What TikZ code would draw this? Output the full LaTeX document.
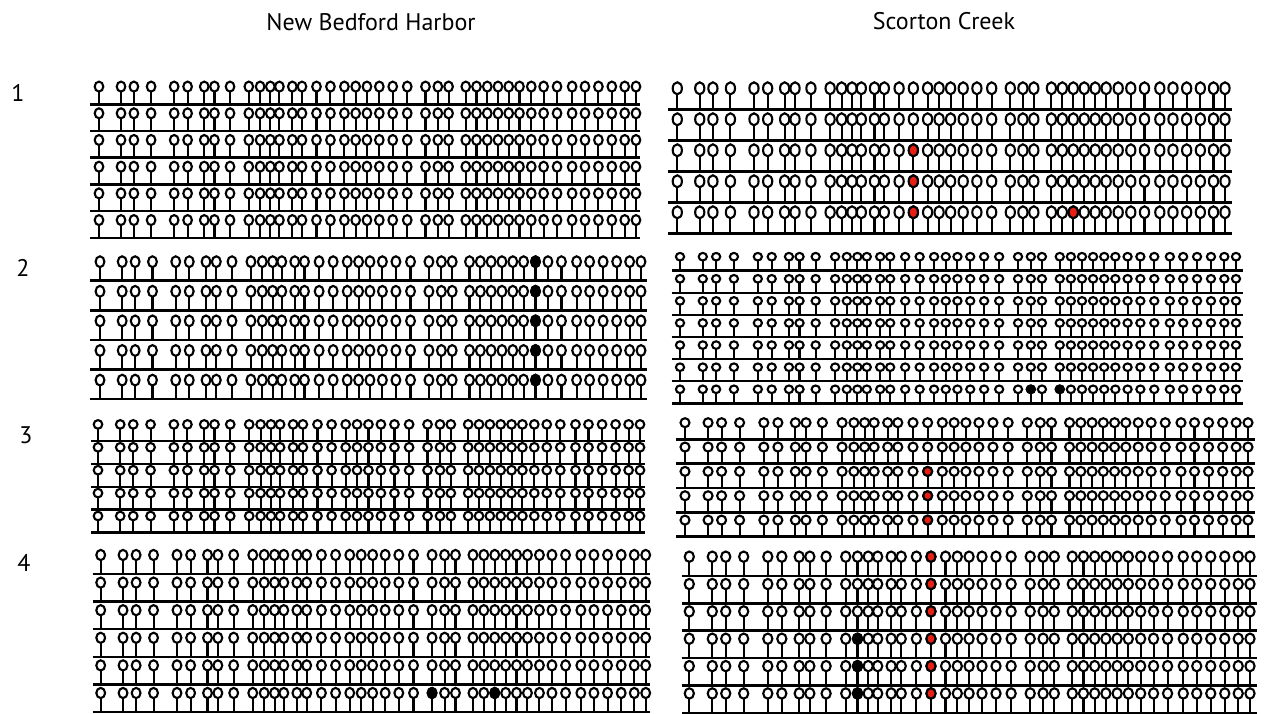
\documentclass[tikz,border=0pt]{standalone}
\usepackage{fontspec}
\setmainfont{PT Sans}
\definecolor{mred}{RGB}{232,32,20}
\def\tlist{0,0.041,0.065,0.097,0.140,0.165,0.196,0.215,0.244,0.279,0.300,0.319,0.336,0.360,0.378,0.405,0.431,0.457,0.478,0.499,0.522,0.547,0.574,0.608,0.631,0.651,0.683,0.703,0.723,0.743,0.763,0.783,0.805,0.828,0.853,0.881,0.905,0.930,0.955,0.979,1.0}
\edef\tarr{{\tlist}}
\newcommand\setblock[9]{\def\bxo{#1}\def\bxe{#2}\def\bxa{#3}\def\bxb{#4}\def\byo{#5}\def\bp{#6}\def\bn{#7}\def\bry{#8}\def\bh{#9}}
\newcommand\drawblock{%
  \foreach \r in {1,...,\bn}{%
    \pgfmathsetmacro\yb{\byo+(\r-1)*\bp}%
    \draw[rowline] (\bxo,\yb) -- (\bxe,\yb);
    \foreach \tv in \tlist {%
      \pgfmathsetmacro\xx{\bxa+(\bxb-\bxa)*\tv}%
      \draw[stemline] (\xx,\yb) -- (\xx,\yb-\bh+\bry);
      \draw[lolli] (\xx,\yb-\bh) ellipse[x radius=\rx pt, y radius=\bry pt];
    }
  }}
\newcommand\markit[3]{%
  \pgfmathsetmacro\mt{\tarr[#1]}%
  \pgfmathsetmacro\mx{\bxa+(\bxb-\bxa)*\mt}%
  \pgfmathsetmacro\my{\byo+(#2-1)*\bp-\bh}%
  \draw[lolli,fill=#3] (\mx,\my) ellipse[x radius=\rx pt, y radius=\bry pt];}
\begin{document}
\begin{tikzpicture}[x=1pt,y=-1pt,
  rowline/.style={line width=2.5pt},
  stemline/.style={line width=2.1pt},
  lolli/.style={line width=2.1pt,draw=black,fill=white},
  lbl/.style={font=\fontsize{24}{28}\selectfont,anchor=center,inner sep=0pt}]
\useasboundingbox (0,0) rectangle (1270,714);
\node[lbl] (tnbh) at (371,22) {New Bedford Harbor};
\node[lbl] (tsc) at (944,21) {Scorton Creek};
\node[lbl] (l1) at (18,93) {1};
\node[lbl] (l2) at (23,268) {2};
\node[lbl] (l3) at (26,435) {3};
\node[lbl] (l4) at (24,563) {4};
% New Bedford Harbor
\def\rx{4.3}\setblock{90}{640}{99}{636}{104.3}{26.7}{6}{5.0}{17.7}\drawblock
\def\rx{4.4}\setblock{90}{647}{100}{641}{280.7}{29.6}{5}{5.4}{19}\drawblock
\foreach \k in {1,...,5}{\markit{32}{\k}{black}}
\def\rx{4.3}\setblock{91}{645}{98}{640}{441}{22.9}{5}{4.3}{16.6}\drawblock
\def\rx{4.4}\setblock{92.7}{650}{100.7}{645.7}{574}{27.6}{6}{5.1}{19}\drawblock
\markit{23}{6}{black}\markit{28}{6}{black}
% Scorton Creek
\def\rx{4.6}\setblock{668}{1232}{677.3}{1225}{109.3}{31}{5}{6.0}{21}\drawblock
\foreach \k in {3,4,5}{\markit{16}{\k}{mred}}
\markit{28}{5}{mred}
\def\rx{4.1}\setblock{671.7}{1242.7}{680}{1236}{270.7}{22.1}{7}{3.8}{14}\drawblock
\markit{24}{7}{black}\markit{26}{7}{black}
\def\rx{4.5}\setblock{676}{1255}{685}{1248}{439.3}{24.35}{5}{4.5}{16.6}\drawblock
\foreach \k in {3,4,5}{\markit{16}{\k}{mred}}
\def\rx{4.6}\setblock{681.7}{1257}{689.3}{1250}{576}{27.35}{6}{5.2}{19.3}\drawblock
\foreach \k in {1,...,6}{\markit{16}{\k}{mred}}
\foreach \k in {4,5,6}{\markit{10}{\k}{black}}
\end{tikzpicture}
\end{document}
